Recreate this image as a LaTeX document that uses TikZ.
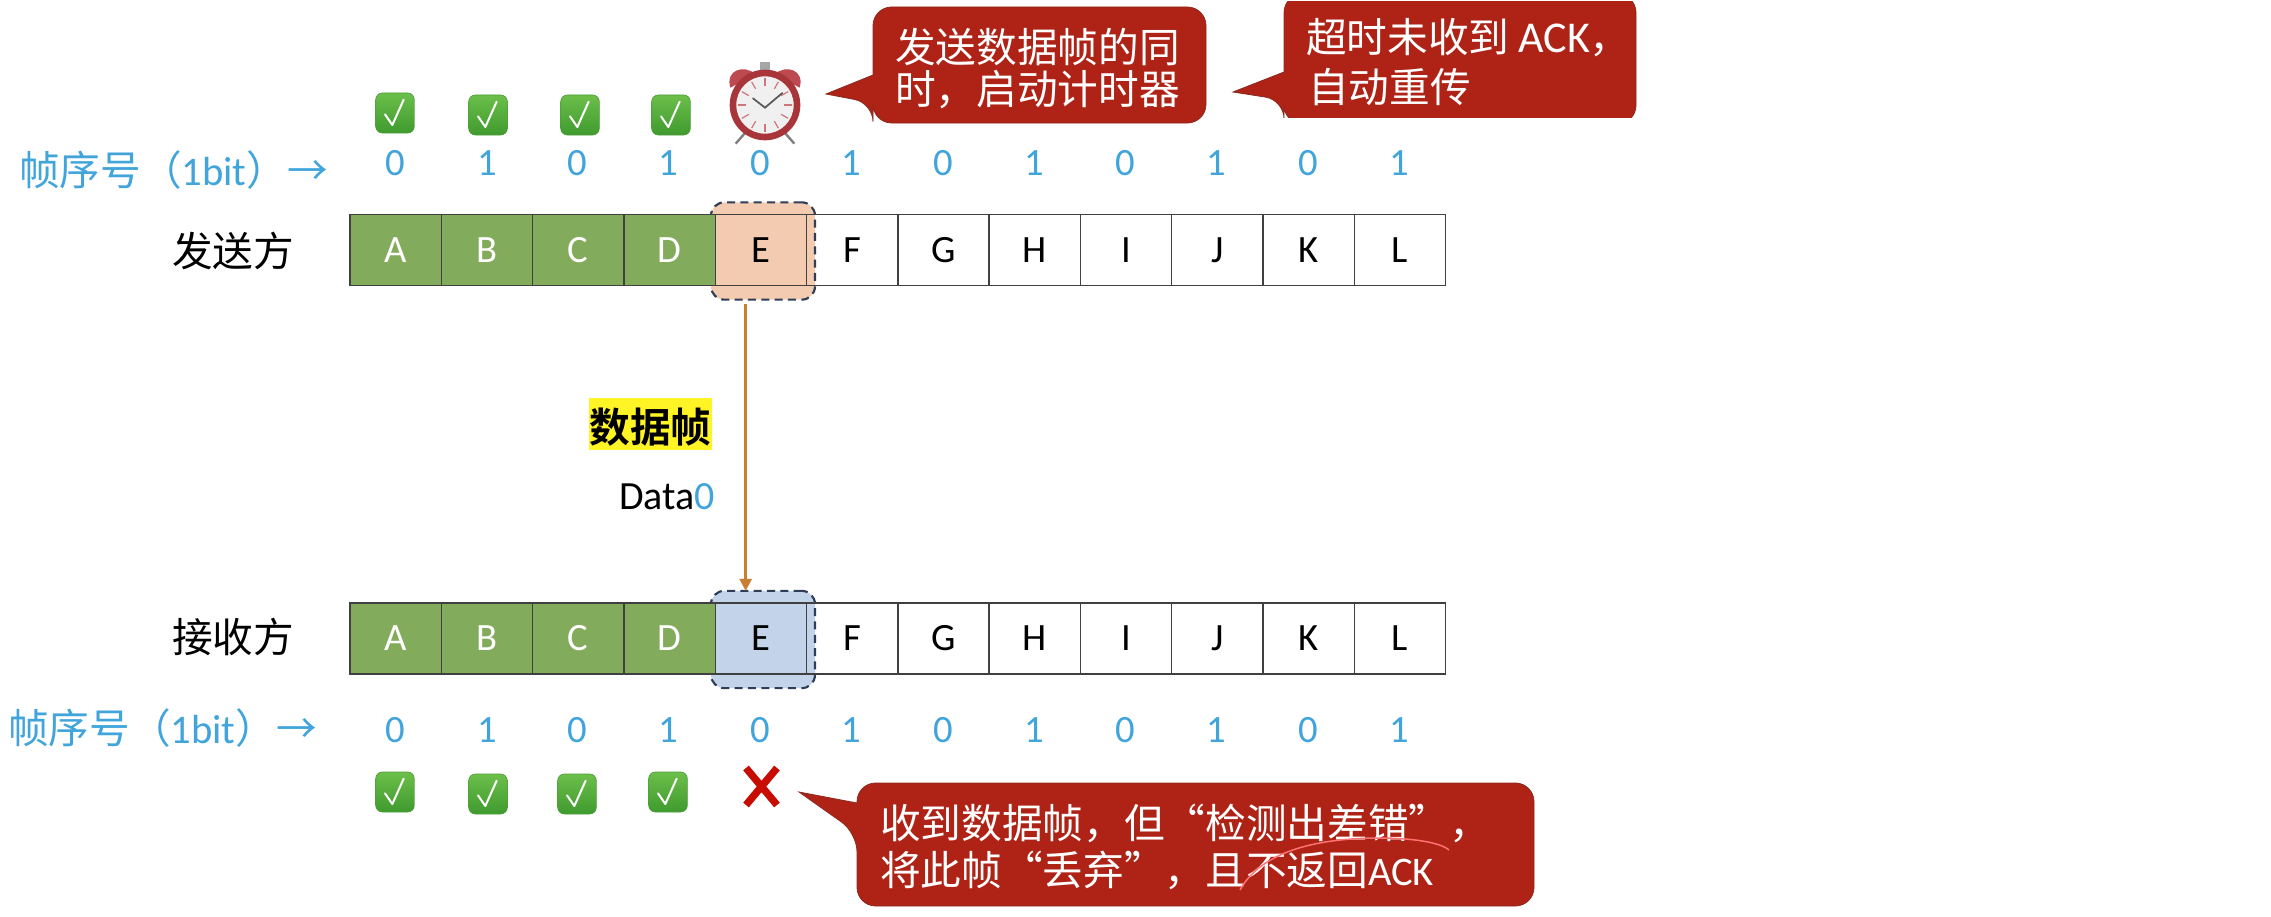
\documentclass[tikz,border=0pt]{standalone}
\usepackage{fontspec}
\setmainfont{Carlito}
\newfontfamily\cjk{Noto Sans CJK SC}
\newfontfamily\cjkbold{Noto Sans CJK SC Bold}
\usetikzlibrary{arrows.meta,calc}
\definecolor{calloutred}{HTML}{AE2316}
\definecolor{calloutedge}{HTML}{8C2A22}
\definecolor{seqblue}{HTML}{41A5DC}
\definecolor{cellgreen}{HTML}{82AB5B}
\definecolor{peach}{HTML}{F3CBB0}
\definecolor{paleblue}{HTML}{C3D4EA}
\definecolor{dashnavy}{HTML}{2E3D58}
\definecolor{arroworange}{HTML}{C97E32}
\definecolor{chktop}{HTML}{6CBF4A}
\definecolor{chkbot}{HTML}{3F9A2E}
\definecolor{chkedge}{HTML}{4E9E3A}
\definecolor{clockred}{HTML}{A8353A}
\definecolor{clockbell}{HTML}{BC4A50}
\newcommand{\bigf}{\fontsize{30.5}{36}\selectfont}
\tikzset{
  px/.style={x=0.75pt,y=-0.75pt},
  txt/.style={inner sep=0pt,outer sep=0pt,font=\bigf},
  seqdigit/.style={txt,text=seqblue,font=\fontsize{29}{34}\selectfont},
  cellbox/.style={draw=black!75,line width=1pt,minimum width=68.5pt,minimum height=53.25pt,inner sep=0pt,outer sep=0pt,font=\fontsize{29}{34}\selectfont},
  donecell/.style={cellbox,fill=cellgreen,text=white},
  dashbox/.style={draw=dashnavy,line width=1.6pt,dash pattern=on 6pt off 4pt,rounded corners=10pt,minimum width=78pt,minimum height=73pt,inner sep=0pt,outer sep=0pt},
  bubble/.style={fill=calloutred,draw=calloutedge,line width=0.6pt,rounded corners=14pt},
  bubbletext/.style={txt,text=white,anchor=west,align=left},
  chk/.pic={
    \shade[top color=chktop,bottom color=chkbot,rounded corners=5pt,draw=chkedge,line width=.5pt] (-14.5pt,-15pt) rectangle (14.5pt,15pt);
    \draw[white,line width=1.5pt,line join=round,line cap=round] (-7.5pt,-1pt) -- (-2pt,-9pt) -- (6.5pt,10pt);
  },
  alarm/.pic={
    \fill[clockbell] (-26pt,13pt) .. controls (-30pt,26pt) and (-16pt,31pt) .. (-7pt,23pt) -- cycle;
    \fill[clockbell] (26pt,13pt) .. controls (30pt,26pt) and (16pt,31pt) .. (7pt,23pt) -- cycle;
    \fill[black!35] (-4pt,25pt) rectangle (4pt,32pt);
    \draw[black!50,line width=1.8pt] (-15pt,-21pt) -- (-22pt,-29pt) (15pt,-21pt) -- (22pt,-29pt);
    \fill[clockred] (0,0) circle (26.5pt);
    \fill[black!6] (0,0) circle (21.5pt);
    \foreach \a in {0,30,...,330}{
      \draw[clockbell!75!white,line width=.9pt] (\a:14pt) -- (\a:20pt);
    }
    \draw[black!65,line width=1.3pt,line cap=round] (-9pt,5pt) -- (0,-2pt) -- (13pt,9pt);
  },
}
\begin{document}
\begin{tikzpicture}[px]
\useasboundingbox (0,0) rectangle (2271,917);
\fill[white] (0,0) rectangle (2271,917);

% dashed highlight boxes, behind the cells
\node[dashbox,fill=peach] (sbox) at (763,251) {};
\node[dashbox,fill=paleblue] (rbox) at (763,639.5) {};

% sender row
\node[donecell] (sA) at (395.7,250) {A};
\node[donecell] (sB) at (487,250) {B};
\node[donecell] (sC) at (578.3,250) {C};
\node[donecell] (sD) at (669.6,250) {D};
\node[cellbox] (sE) at (760.9,250) {E};
\node[cellbox] (sF) at (852.2,250) {F};
\node[cellbox] (sG) at (943.5,250) {G};
\node[cellbox] (sH) at (1034.8,250) {H};
\node[cellbox] (sI) at (1126.1,250) {I};
\node[cellbox] (sJ) at (1217.4,250) {J};
\node[cellbox] (sK) at (1308.7,250) {K};
\node[cellbox] (sL) at (1400,250) {L};

% receiver row
\node[donecell] (rA) at (395.7,638.5) {A};
\node[donecell] (rB) at (487,638.5) {B};
\node[donecell] (rC) at (578.3,638.5) {C};
\node[donecell] (rD) at (669.6,638.5) {D};
\node[cellbox] (rE) at (760.9,638.5) {E};
\node[cellbox] (rF) at (852.2,638.5) {F};
\node[cellbox] (rG) at (943.5,638.5) {G};
\node[cellbox] (rH) at (1034.8,638.5) {H};
\node[cellbox] (rI) at (1126.1,638.5) {I};
\node[cellbox] (rJ) at (1217.4,638.5) {J};
\node[cellbox] (rK) at (1308.7,638.5) {K};
\node[cellbox] (rL) at (1400,638.5) {L};

% row labels
\node[txt] (sender) at (233,251) {\cjk 发送方};
\node[txt] (receiver) at (233,637) {\cjk 接收方};
\node[txt,text=seqblue,anchor=west] (seqtop) at (19,170) {{\cjk 帧序号（}1bit{\cjk ）→}};
\node[txt,text=seqblue,anchor=west] (seqbot) at (8,728) {{\cjk 帧序号（}1bit{\cjk ）→}};

% sequence numbers
\foreach \n/\d/\px in {0/0/395,1/1/487,2/0/577,3/1/668,4/0/760,5/1/851,6/0/943,7/1/1034,8/0/1125,9/1/1216,10/0/1308,11/1/1399}{
  \node[seqdigit] (dt\n) at (\px,163) {\d};
  \node[seqdigit] (db\n) at (\px,730) {\d};
}

% status marks
\pic at (395,113) {chk};
\pic at (488,115) {chk};
\pic at (580,115) {chk};
\pic at (671,115) {chk};
\pic at (395,792) {chk};
\pic at (488,794) {chk};
\pic at (577,794) {chk};
\pic at (668,792) {chk};
\pic at (765,105) {alarm};
\draw[red!75!black!90!orange,line width=5.5pt] (746,768) -- (777,805) (777,768) -- (746,805);

% transfer arrow
\node[txt,fill=yellow!85!white,minimum width=92pt,minimum height=39pt] (frame) at (650.5,424) {\smash{\raisebox{-13.8pt}{\cjkbold 数据帧}}};
\node[txt,anchor=east,font=\fontsize{30}{34}\selectfont] (data) at (715,497) {Data\textcolor{seqblue}{0}};
\draw[arroworange,line width=2.2pt,-{Triangle[length=9pt,width=9pt]}] ([xshift=-13pt,yshift=-3pt]sbox.south) -- ([xshift=-13pt]rbox.north);

% callouts
\draw[bubble] (873,7) -- (1206,7) -- (1206,123) -- (873,123) -- (873,103) [sharp corners] -- (826,94) -- (873,75) [rounded corners=14pt] -- cycle;
\node[bubbletext] (c1a) at (895,47) {\cjk 发送数据帧的同};
\node[bubbletext] (c1b) at (895,90) {\cjk 时，启动计时器};

\begin{scope}
\clip (1220,2) rectangle (1650,118);
\draw[bubble] (1284,-6) -- (1636,-6) -- (1636,124) -- (1284,124) -- (1284,100) [sharp corners] -- (1233,92) -- (1284,72) [rounded corners=14pt] -- cycle;
\end{scope}
\node[bubbletext] (c2a) at (1306,38) {{\cjk 超时未收到} {\fontsize{33}{36}\selectfont ACK}{\cjk ，}};
\node[bubbletext] (c2b) at (1308,87) {\cjk 自动重传};

\draw[bubble] (857,783) -- (1534,783) -- (1534,906) -- (857,906) -- (857,833) [sharp corners] -- (799,792) -- (857,803) [rounded corners=14pt] -- cycle;
\node[bubbletext] (c3a) at (880,823) {\cjk 收到数据帧，但“检测出差错”，};
\node[bubbletext] (c3b) at (880,870) {{\cjk 将此帧“丢弃”，且不返回}ACK};
\draw[red!55!white,line width=1.1pt] (1240,890) .. controls (1262,850) and (1320,838) .. (1380,838) .. controls (1410,838) and (1440,842) .. (1449,850);
\end{tikzpicture}
\end{document}
